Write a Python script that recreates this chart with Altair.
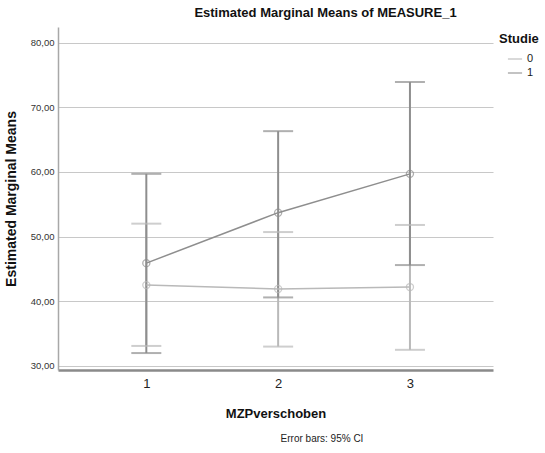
import altair as alt
import pandas as pd

# Estimated marginal means per measurement point, with 95% CI bounds
mzp = [1, 2, 3]
studie0_mean = [42.5, 41.9, 42.2]
studie0_lo = [33.1, 33.0, 32.5]
studie0_hi = [52.0, 50.7, 51.8]
studie1_mean = [45.9, 53.7, 59.7]
studie1_lo = [32.0, 40.6, 45.6]
studie1_hi = [59.7, 66.3, 73.9]

rows = []
for grp, m, lo, hi in [("0", studie0_mean, studie0_lo, studie0_hi),
                       ("1", studie1_mean, studie1_lo, studie1_hi)]:
    for x, a, b, c in zip(mzp, m, lo, hi):
        rows.append({"MZP": x, "Studie": grp, "mean": a, "lo": b, "hi": c})
df = pd.DataFrame(rows)

FONT = "Liberation Sans, Arial, sans-serif"
grey = alt.Scale(domain=["0", "1"], range=["#b9b9b9", "#8e8e8e"])

xs = alt.Scale(domain=[0.33, 3.63], nice=False, zero=False)
ys = alt.Scale(domain=[29.38, 82.4], nice=False, zero=False)

x_axis = alt.Axis(values=[1, 2, 3], format="d", title="MZPverschoben", grid=False, ticks=False,
                  labelFontSize=13, labelColor="#222222", labelPadding=7,
                  titleFontSize=13, titleFontWeight="bold", titleColor="#111111",
                  titlePadding=17, domainColor="#8a8a8a", domainWidth=2.5)
y_axis = alt.Axis(values=[30, 40, 50, 60, 70, 80], title="Estimated Marginal Means",
                  labelExpr="replace(format(datum.value, '.2f'), '.', ',')",
                  ticks=False, labelFontSize=9.5, labelColor="#333333", labelPadding=4,
                  gridColor="#c8c8c8", gridWidth=1.2,
                  titleFontSize=14, titleFontWeight="bold", titleColor="#111111",
                  titlePadding=12, domainColor="#a8a8a8", domainWidth=1.5)

legend = alt.Legend(
    title="Studie", orient="none", legendX=441, legendY=6,
    titleFontSize=13, titleFontWeight="bold", titleColor="#111111",
    labelFontSize=11, labelColor="#1a1a1a", symbolType="stroke",
    symbolSize=200, symbolStrokeWidth=1.5, symbolOffset=8,
    rowPadding=1, labelOffset=4)
color = alt.Color("Studie:N", scale=grey, legend=legend)

base = alt.Chart(df)

line = base.mark_line(strokeWidth=1.5).encode(
    x=alt.X("MZP:Q", scale=xs, axis=x_axis),
    y=alt.Y("mean:Q", scale=ys, axis=y_axis),
    color=color,
    order="Studie:N",
)

bars = base.mark_rule(strokeWidth=2).encode(
    x=alt.X("MZP:Q", scale=xs),
    y=alt.Y("lo:Q", scale=ys),
    y2="hi:Q",
    color=color,
)

cap_lo = base.mark_tick(orient="horizontal", size=30, thickness=2).encode(
    x=alt.X("MZP:Q", scale=xs),
    y=alt.Y("lo:Q", scale=ys),
    color=color,
)
cap_hi = base.mark_tick(orient="horizontal", size=30, thickness=2).encode(
    x=alt.X("MZP:Q", scale=xs),
    y=alt.Y("hi:Q", scale=ys),
    color=color,
)

points = base.mark_point(shape="circle", filled=False, size=50, strokeWidth=1.3).encode(
    x=alt.X("MZP:Q", scale=xs),
    y=alt.Y("mean:Q", scale=ys),
    color=color,
)

note = alt.Chart(pd.DataFrame({"t": ["Error bars: 95% CI"]})).mark_text(
    fontSize=10, color="#222222", font=FONT, align="center", baseline="middle"
).encode(text="t:N", x=alt.value(264), y=alt.value(412))

chart = alt.layer(bars, cap_lo, cap_hi, line, points, note).properties(
    width=435, height=343,
    autosize=alt.AutoSizeParams(type="none"),
    padding={"left": 58, "top": 27, "right": 52, "bottom": 83},
    title=alt.TitleParams("Estimated Marginal Means of MEASURE_1", anchor="middle",
                          dx=50, fontSize=13, fontWeight="bold", color="#111111",
                          font=FONT, offset=7),
).configure(font=FONT).configure_view(stroke=None).configure_axis(
    labelFont=FONT, titleFont=FONT
).configure_legend(labelFont=FONT, titleFont=FONT, labelColor="#1a1a1a")

chart.save("out.html", embed_options={"renderer": "svg", "actions": False})
